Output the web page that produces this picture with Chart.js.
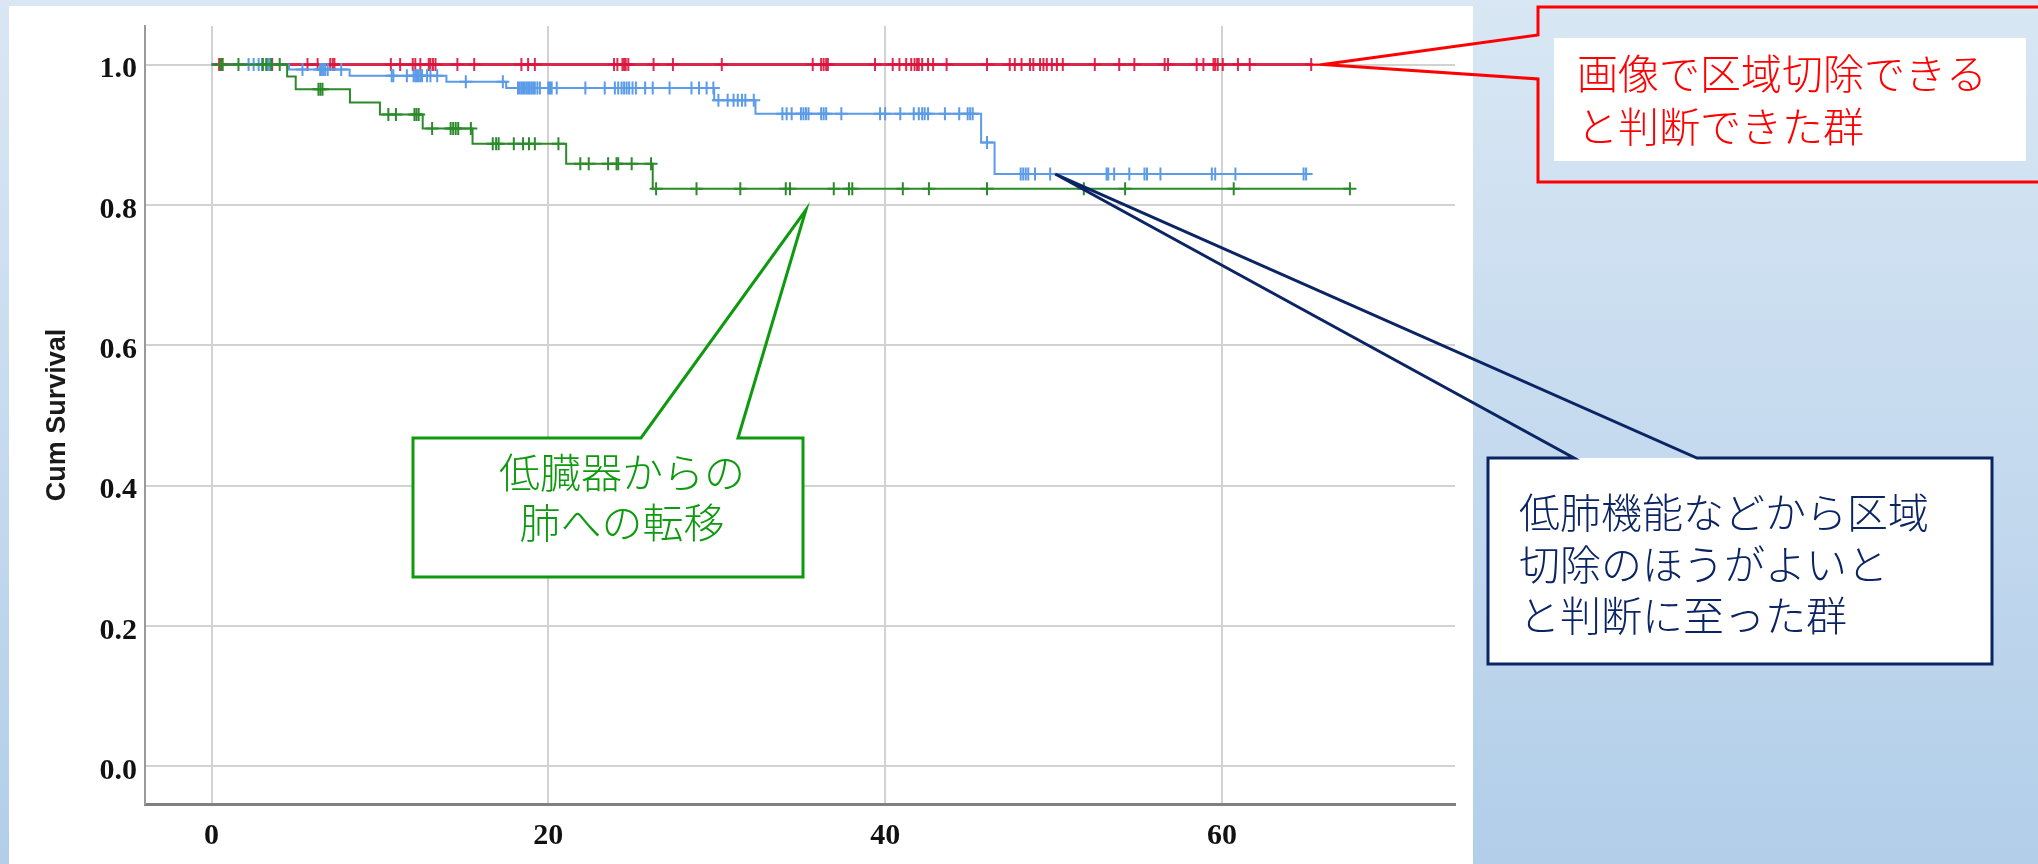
<!DOCTYPE html>
<html>
<head>
<meta charset="utf-8">
<script src="https://cdn.jsdelivr.net/npm/chart.js@4.4.1/dist/chart.umd.min.js"></script>
<style>
  html, body { margin: 0; padding: 0; overflow: hidden; }
  canvas { display: block; }
</style>
</head>
<body>
<canvas id="km" width="2038" height="864"></canvas>
<script>
// --- Axis ticks ---
const xTicks = [0, 20, 40, 60];
const yTicks = [0, 0.2, 0.4, 0.6, 0.8, 1.0];

// --- Group 1 (red): segmentectomy judged possible from imaging ---
const redTimes = [0, 65.4];
const redSurv = [1, 1];
const redCensor = [0.45, 0.55, 0.65, 3.45, 3.6, 5.7, 6.3, 7.05, 7.2, 7.3, 10.65, 11.2, 11.95, 12.1, 12.4, 12.9,
    13.0, 13.15, 13.3, 14.6, 15.6, 18.4, 18.8, 19.2, 23.9, 24.1, 24.4, 24.5, 24.6, 24.75, 26.25, 27.4, 30.3,
    35.7, 36.2, 36.35, 36.5, 36.6, 39.4, 40.45, 40.85, 41.25, 41.55, 41.75, 41.9, 42.0, 42.2, 42.55, 42.85, 43.65,
    46.05, 47.4, 47.7, 48.1, 48.6, 48.8, 49.2, 49.4, 49.6, 49.9, 50.2, 50.55, 52.45, 53.9, 54.8, 56.6, 56.8,
    58.5, 58.9, 59.5, 59.6, 59.75, 60.05, 60.95, 61.65, 65.3];

// --- Group 2 (blue): low lung function etc. ---
const blueTimes = [0, 4.6, 8.2, 13.95, 17.5, 29.85, 32.3, 45.7, 46.5, 65.1];
const blueSurv = [1, 0.993, 0.984, 0.9755, 0.9665, 0.949, 0.930, 0.889, 0.844, 0.844];
const blueCensor = [2.2, 2.5, 2.8, 3.0, 3.35, 3.45, 5.4, 6.45, 6.55, 6.65, 6.75, 6.9, 7.7, 10.7, 10.8, 11.6,
    12.0, 12.1, 12.2, 12.3, 12.4, 12.5, 12.8, 13.0, 13.4, 15.1, 17.3, 18.2, 18.3, 18.4, 18.5, 18.6, 18.7, 18.8,
    18.9, 19.0, 19.1, 19.2, 19.35, 19.5, 20.0, 20.1, 20.2, 20.5, 22.2, 23.35, 23.95, 24.15, 24.35, 24.5, 24.65,
    24.8, 25.0, 25.2, 25.75, 26.2, 27.2, 28.5, 28.95, 29.4, 29.8, 30.1, 30.65, 31.0, 31.25, 31.5, 31.7, 32.2,
    33.9, 34.15, 34.45, 35.0, 35.15, 35.3, 35.45, 36.2, 36.35, 36.5, 37.4, 39.7, 40.0, 40.9, 41.7, 42.0, 42.2,
    42.35, 42.55, 43.55, 44.4, 44.9, 45.05, 45.2, 46.05, 48.05, 48.2, 48.35, 48.5, 48.9, 49.8, 53.15, 53.25,
    53.6, 54.5, 55.4, 55.55, 56.35, 59.4, 59.6, 60.8, 64.85, 65.0];

// --- Group 3 (green): metastasis to lung ---
const greenTimes = [0, 4.49, 5.0, 8.22, 10.0, 12.54, 15.5, 21.06, 26.2, 67.6];
const greenSurv = [1, 0.983, 0.965, 0.946, 0.929, 0.909, 0.887, 0.8585, 0.823, 0.823];
const greenCensor = [0.55, 0.65, 1.6, 3.05, 3.25, 3.55, 4.05, 6.35, 6.47, 6.59, 10.5, 10.95, 12.05, 12.17, 12.3,
    13.1, 14.2, 14.35, 14.5, 14.65, 15.4, 16.7, 16.9, 17.05, 17.95, 18.5, 18.85, 19.2, 20.6, 21.9, 22.4, 23.55,
    24.05, 24.15, 24.95, 26.1, 26.4, 28.8, 31.4, 34.1, 34.35, 36.95, 37.85, 38.05, 41.05, 42.6, 46.05, 51.8,
    54.25, 60.7, 67.6];

// --- Helpers ---
function stepPoints(times, surv) {
    return times.map((t, i) => ({ x: t, y: surv[i] }));
}
function survAt(times, surv, t) {
    let s = surv[0];
    for (let i = 0; i < times.length; i++) { if (times[i] <= t) s = surv[i]; }
    return s;
}
function censorPoints(times, surv, cens) {
    return cens.map(t => ({ x: t, y: survAt(times, surv, t) }));
}

const RED = 'rgba(220, 20, 60, 0.9)';
const BLUE = '#5b9be8';
const GREEN = '#2b8a2b';

function lineSet(times, surv, color, width) {
    return { type: 'scatter', data: stepPoints(times, surv), showLine: true, stepped: 'before',
        borderColor: color, backgroundColor: color, borderWidth: width, pointRadius: 0, pointHoverRadius: 0 };
}
function censorSet(times, surv, cens, color) {
    return { type: 'scatter', data: censorPoints(times, surv, cens), showLine: false,
        pointStyle: 'cross', pointRadius: 6.5, pointBorderWidth: 2,
        borderColor: color, backgroundColor: color, pointBorderColor: color };
}

// --- Background & white panel ---
const panelPlugin = {
    id: 'panel',
    beforeDraw(chart) {
        const ctx = chart.ctx;
        const g = ctx.createLinearGradient(0, 0, 0, chart.height);
        g.addColorStop(0, '#d9e7f4');
        g.addColorStop(1, '#b2cee9');
        ctx.save();
        ctx.fillStyle = g;
        ctx.fillRect(0, 0, chart.width, chart.height);
        ctx.fillStyle = '#ffffff';
        ctx.fillRect(9, 6, 1464, 858);
        ctx.restore();
    }
};

// --- Callouts (boxes in pixels, tips pinned to data) ---
const JP_FONT = '300 41px "Noto Sans CJK JP", "Noto Sans CJK SC", sans-serif';

function strokePath(ctx, pts, color, width) {
    ctx.beginPath();
    ctx.moveTo(pts[0][0], pts[0][1]);
    for (let i = 1; i < pts.length; i++) ctx.lineTo(pts[i][0], pts[i][1]);
    ctx.closePath();
    ctx.strokeStyle = color;
    ctx.lineWidth = width;
    ctx.lineJoin = 'miter';
    ctx.stroke();
}

const calloutPlugin = {
    id: 'callouts',
    afterDraw(chart) {
        const ctx = chart.ctx;
        const xs = chart.scales.x, ys = chart.scales.y;
        ctx.save();
        ctx.font = JP_FONT;
        ctx.textBaseline = 'middle';

        // red: imaging-based group
        const rt = [xs.getPixelForValue(66.0), ys.getPixelForValue(1.0)];
        ctx.fillStyle = '#ffffff';
        ctx.fillRect(1554, 38, 472, 123);
        strokePath(ctx, [[1538, 7], [2100, 7], [2100, 182], [1538, 182], [1538, 79], rt, [1538, 35]], '#ff0000', 3);
        ctx.fillStyle = '#ff0000';
        ctx.textAlign = 'left';
        ctx.fillText('画像で区域切除できる', 1577, 73);
        ctx.fillText('と判断できた群', 1577, 126);

        // green: metastasis group
        const gt = [xs.getPixelForValue(35.3), ys.getPixelForValue(0.793)];
        ctx.fillStyle = '#ffffff';
        ctx.fillRect(413, 438, 390, 139);
        strokePath(ctx, [[413, 438], [641, 438], gt, [738, 438], [803, 438], [803, 577], [413, 577]], '#0e9a0e', 3);
        ctx.fillStyle = '#0e9a0e';
        ctx.textAlign = 'center';
        ctx.fillText('低臓器からの', 622, 472);
        ctx.fillText('肺への転移', 622, 522);

        // navy: low lung function group
        const nt = [xs.getPixelForValue(50.1), ys.getPixelForValue(0.844)];
        ctx.fillStyle = '#ffffff';
        ctx.fillRect(1488, 458, 504, 206);
        strokePath(ctx, [[1488, 458], [1574, 458], nt, [1697, 458], [1992, 458], [1992, 664], [1488, 664]], '#0b2463', 3);
        ctx.fillStyle = '#0b2463';
        ctx.textAlign = 'left';
        ctx.fillText('低肺機能などから区域', 1519, 512);
        ctx.fillText('切除のほうがよいと', 1519, 564);
        ctx.fillText('と判断に至った群', 1519, 615);
        ctx.restore();
    }
};

const tickFont = { family: '"Liberation Serif", "Times New Roman", serif', weight: 'bold', size: 30 };

new Chart(document.getElementById('km'), {
    type: 'scatter',
    data: {
        datasets: [
            censorSet(greenTimes, greenSurv, greenCensor, GREEN),
            lineSet(greenTimes, greenSurv, GREEN, 2),
            censorSet(blueTimes, blueSurv, blueCensor, BLUE),
            lineSet(blueTimes, blueSurv, BLUE, 2),
            censorSet(redTimes, redSurv, redCensor, RED),
            lineSet(redTimes, redSurv, RED, 3)
        ]
    },
    options: {
        responsive: false,
        devicePixelRatio: 1,
        animation: false,
        events: [],
        layout: { padding: { left: 9, top: 18, right: 583, bottom: 0 } },
        plugins: { legend: { display: false }, tooltip: { enabled: false } },
        scales: {
            x: {
                type: 'linear', min: -3.95, max: 73.84,
                afterFit: s => { s.height = 60; },
                afterBuildTicks: s => { s.ticks = xTicks.map(v => ({ value: v })); },
                grid: { color: '#d2d2d2', lineWidth: 2, drawTicks: false },
                border: { color: '#808080', width: 3 },
                ticks: { font: tickFont, color: '#111', padding: 14, maxRotation: 0 }
            },
            y: {
                type: 'linear', min: -0.054, max: 1.055,
                afterFit: s => { s.width = 136; },
                afterBuildTicks: s => { s.ticks = yTicks.map(v => ({ value: v })); },
                grid: { color: '#d2d2d2', lineWidth: 2, drawTicks: false },
                border: { color: '#9a9a9a', width: 2 },
                ticks: { font: tickFont, color: '#111', padding: 8, labelOffset: 5,
                    callback: v => v.toFixed(1) },
                title: { display: true, text: 'Cum Survival', color: '#1a1a1a',
                    font: { family: '"Liberation Sans", Arial, sans-serif', size: 27, weight: 'bold' },
                    padding: { top: 32, bottom: 0 } }
            }
        }
    },
    plugins: [panelPlugin, calloutPlugin]
});
</script>
</body>
</html>
